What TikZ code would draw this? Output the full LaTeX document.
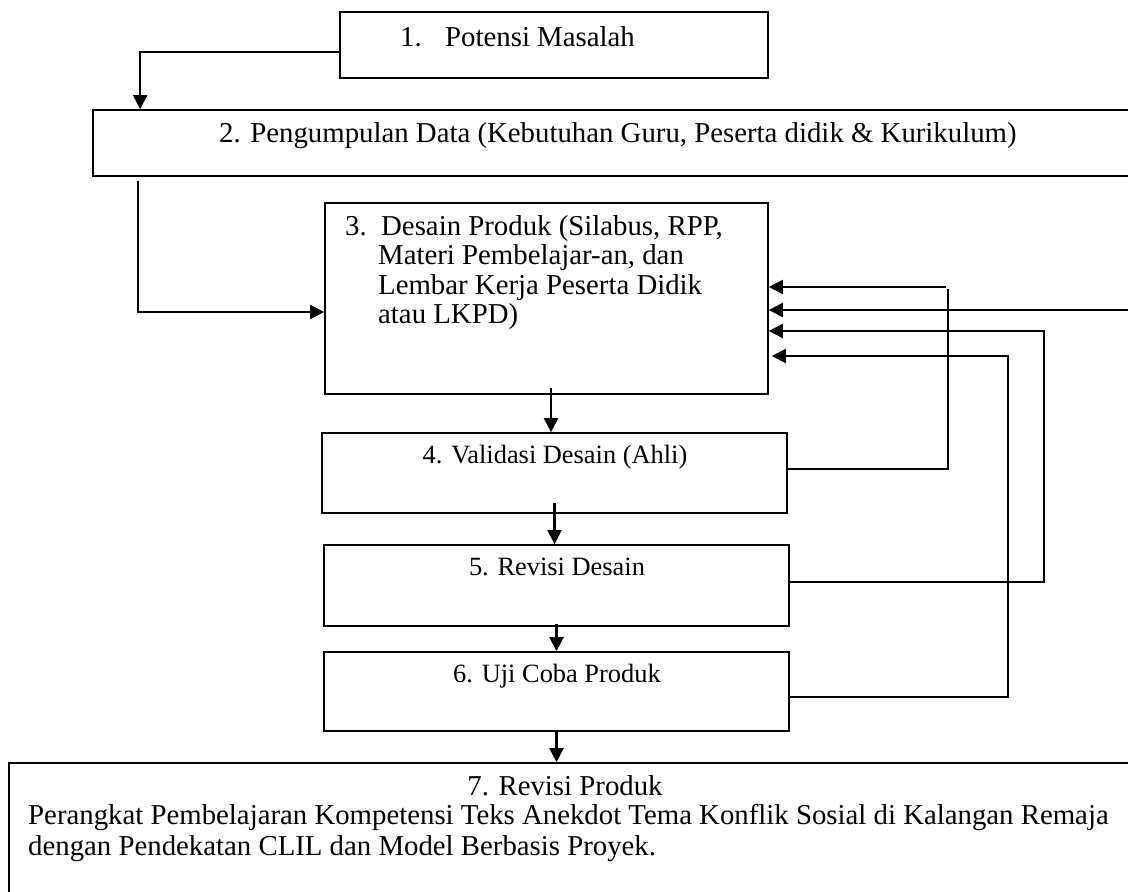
\documentclass[tikz,border=0pt]{standalone}
\usepackage{fontspec}
\setmainfont{Liberation Serif}
\usetikzlibrary{arrows.meta}
\begin{document}
\begin{tikzpicture}[x=1pt,y=-1pt,
  box/.style={draw=black,line width=1.7pt,inner sep=0pt,rectangle},
  arr/.style={line width=2.2pt,-{Triangle[length=14pt,width=14pt]}},
  fb/.style={line width=2pt},
  bigtxt/.style={font=\fontsize{28.8}{29.5}\selectfont,inner sep=0pt},
  midtxt/.style={font=\fontsize{26.4}{28}\selectfont,inner sep=0pt}]
\useasboundingbox (0,0) rectangle (1128,892);
\clip (0,0) rectangle (1128,892);
% boxes
\node[box,minimum width=428pt,minimum height=66pt] (b1) at (554,45) {};
\node[box,minimum width=1047pt,minimum height=66pt] (b2) at (616.5,143) {};
\node[box,minimum width=443pt,minimum height=191pt] (b3) at (546.5,298.5) {};
\node[box,minimum width=465pt,minimum height=80pt] (b4) at (554.5,473) {};
\node[box,minimum width=465pt,minimum height=81pt] (b5) at (556.5,585.5) {};
\node[box,minimum width=465pt,minimum height=79pt] (b6) at (556.5,691.5) {};
\node[box,minimum width=1131pt,minimum height=137pt] (b7) at (574.5,831.5) {};
% texts
\node[bigtxt,anchor=base west] (t1n) at (400,46) {1.};
\node[bigtxt,anchor=base west] (t1) at (445,46) {Potensi Masalah};
\node[bigtxt,anchor=base west] (t2) at (219,142) {2. Pengumpulan Data (Kebutuhan Guru, Peserta didik \& Kurikulum)};
\node[bigtxt,anchor=base west] (t3n) at (345,235) {3.};
\node[bigtxt,anchor=base west] (t3a) at (381,235) {Desain Produk (Silabus, RPP,};
\node[bigtxt,anchor=base west] (t3b) at (378,264.5) {Materi Pembelajar-an, dan};
\node[bigtxt,anchor=base west] (t3c) at (378,294) {Lembar Kerja Peserta Didik};
\node[bigtxt,anchor=base west] (t3d) at (378,323.5) {atau LKPD)};
\node[midtxt,anchor=base] (t4) at (555,463) {4. Validasi Desain (Ahli)};
\node[midtxt,anchor=base] (t5) at (557,575) {5. Revisi Desain};
\node[midtxt,anchor=base] (t6) at (557,682) {6. Uji Coba Produk};
\node[bigtxt,anchor=base] (t7) at (565,795) {7. Revisi Produk};
\node[bigtxt,anchor=base west] (t7a) at (28,824) {Perangkat Pembelajaran Kompetensi Teks Anekdot Tema Konflik Sosial di Kalangan Remaja};
\node[bigtxt,anchor=base west] (t7b) at (28,855) {dengan Pendekatan CLIL dan Model Berbasis Proyek.};
% main flow
\draw[arr] ([yshift=-7pt]b1.west) -| ([xshift=48pt]b2.north west);
\coordinate (c2) at ([xshift=46pt,yshift=-4pt]b2.south west);
\draw[arr] (c2) |- ([yshift=-13.5pt]b3.west);
\draw[arr] ([xshift=4.5pt,yshift=7pt]b3.south) -- ([xshift=4.5pt]b3.south |- b4.north);
\draw[arr] ([yshift=11pt]b4.south) -- (b4.south |- b5.north);
\draw[arr] ([yshift=3pt]b5.south) -- (b5.south |- b6.north);
\draw[arr] (b6.south) -- (b6.south |- b7.north);
% feedback
\coordinate (k1) at (948,287);
\coordinate (k2) at (1140,310);
\coordinate (k3) at (1044,331);
\coordinate (k4) at (1008,356);
\draw[fb] ([yshift=4pt]b4.east) -| ([yshift=-2pt]k1);
\draw[arr] ([xshift=-2pt]k1) -- (b3.east |- k1);
\draw[arr] (k2) -- (b3.east |- k2);
\draw[arr] ([yshift=3.5pt]b5.east) -| (k3) -- (b3.east |- k3);
\draw[arr] ([yshift=-5.5pt]b6.east) -| (k4) -- ([xshift=3pt]b3.east |- k4);
\end{tikzpicture}
\end{document}
